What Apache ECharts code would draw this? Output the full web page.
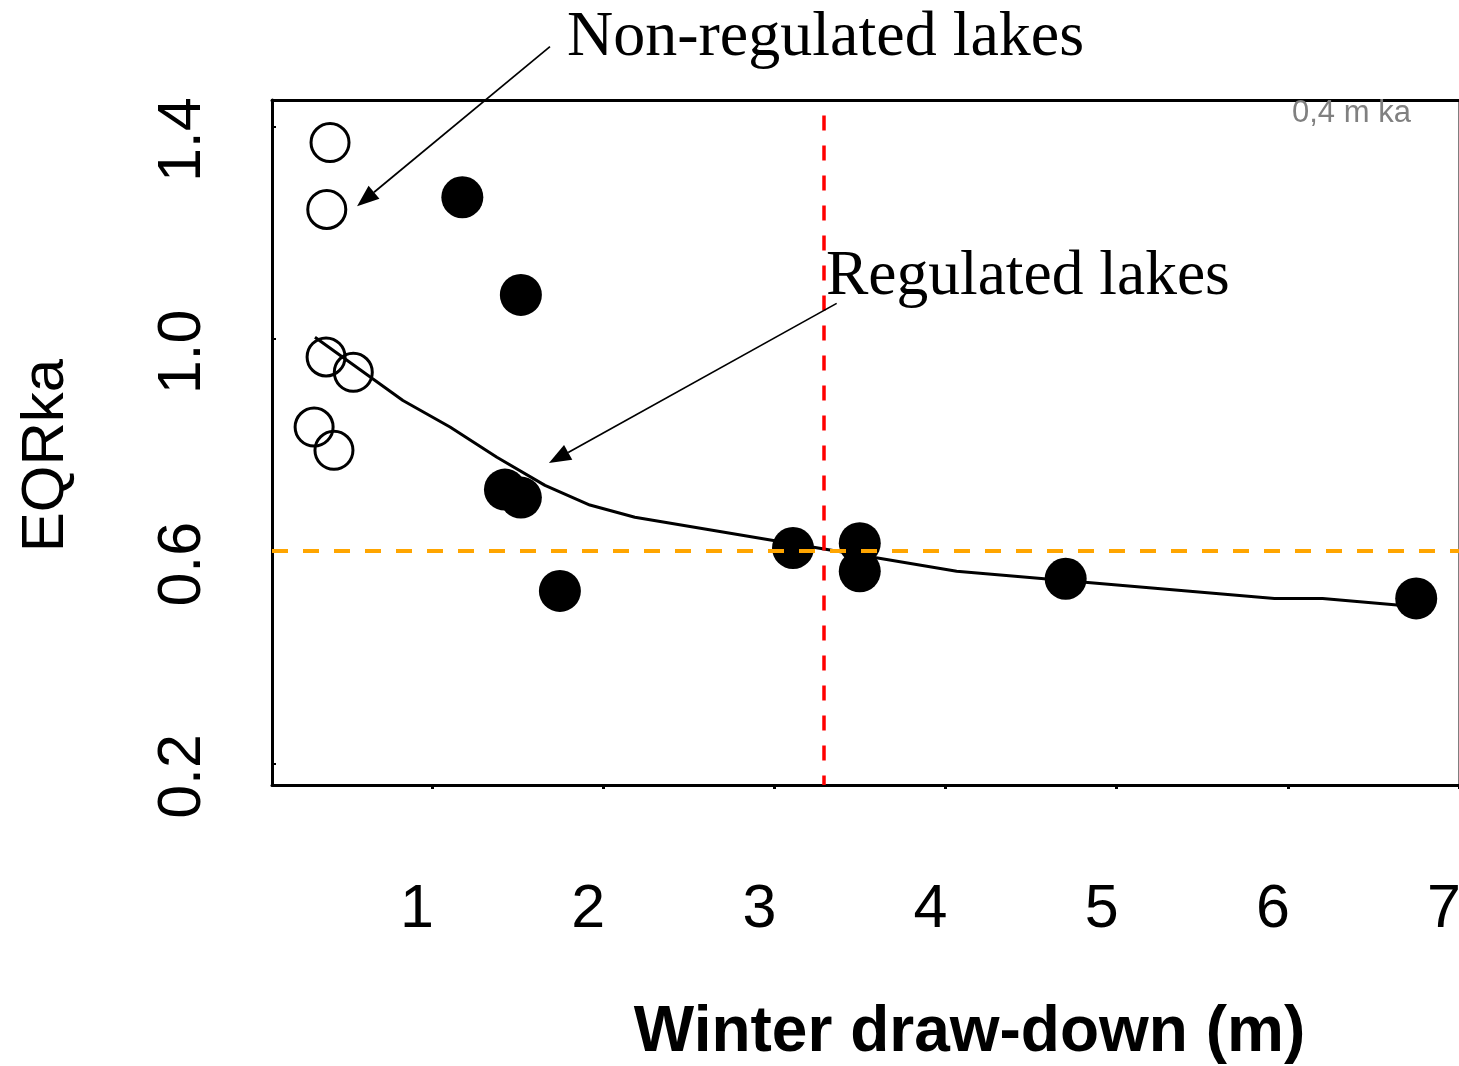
<!DOCTYPE html>
<html><head><meta charset="utf-8">
<script src="https://cdn.jsdelivr.net/npm/echarts@6/dist/echarts.min.js"></script>
<style>html,body{margin:0;padding:0;background:#fff}#c{width:1459px;height:1066px}</style>
</head><body><div id="c"></div>
<script>
// ---- data ----
const nonRegulatedX = [0.404, 0.385, 0.381, 0.540, 0.311, 0.427];
const nonRegulatedY = [1.370, 1.244, 0.966, 0.937, 0.834, 0.790];
const regulatedX = [1.177, 1.519, 1.426, 1.519, 1.747, 3.109, 3.499, 3.499, 4.702, 6.750];
const regulatedY = [1.267, 1.083, 0.716, 0.701, 0.525, 0.606, 0.615, 0.562, 0.548, 0.511];
const trendX = [0.316, 0.830, 1.105, 1.379, 1.660, 1.922, 2.185, 4.065, 5.922, 6.203, 6.722];
const trendY = [1.003, 0.884, 0.834, 0.777, 0.724, 0.687, 0.664, 0.562, 0.511, 0.511, 0.496];
const xTickValues = [1, 2, 3, 4, 5, 6, 7];
const yTickValues = [0.2, 0.6, 1.0, 1.4];
const eqrThreshold = 0.6;
const drawdownLimit = 3.289;
const drawdownLineTop = 1.421;
const xRange = [0.065, 7];
const yRange = [0.1593, 1.4503];
const xAxisTitle = 'Winter draw-down (m)';
const yAxisTitle = 'EQRka';
const nonRegLabel = 'Non-regulated lakes';
const regLabel = 'Regulated lakes';
const cornerNote = '0,4 m ka';
// arrow anchors in data units: [fromX, fromY, toX, toY]
const nonRegArrow = [1.689, 1.551, 0.562, 1.250];
const regArrow = [3.364, 1.067, 1.683, 0.766];

const zip = (a, b) => a.map((v, i) => [v, b[i]]);
const SANS = '"Liberation Sans", Arial, sans-serif';
const SERIF = '"Liberation Serif", "Times New Roman", serif';

const chart = echarts.init(document.getElementById('c'), null, {renderer: 'canvas'});
chart.setOption({
  animation: false,
  backgroundColor: '#fff',
  grid: {left: 272, right: 0, top: 100, bottom: 281, containLabel: false, outerBoundsMode: 'none'},
  xAxis: [{
    type: 'value', min: xRange[0], max: xRange[1], position: 'bottom',
    axisLine: {show: true, onZero: false, lineStyle: {color: '#000', width: 3}},
    splitLine: {show: false},
    axisTick: {show: true, customValues: xTickValues, length: 4, lineStyle: {color: '#000', width: 3}},
    axisLabel: {customValues: xTickValues, margin: 95, padding: [0, 30, 0, 0], fontSize: 61,
      fontFamily: SANS, color: '#000', formatter: v => String(v)},
    name: xAxisTitle, nameLocation: 'middle', nameGap: 216,
    nameTextStyle: {fontSize: 64, fontWeight: 'bold', fontFamily: SANS, color: '#000', padding: [0, 0, 0, 208]}
  }, {
    type: 'value', min: xRange[0], max: xRange[1], position: 'top',
    axisLine: {show: true, onZero: false, lineStyle: {color: '#000', width: 3}},
    axisTick: {show: false}, axisLabel: {show: false}, splitLine: {show: false}
  }],
  yAxis: [{
    type: 'value', min: yRange[0], max: yRange[1], position: 'left',
    axisLine: {show: true, onZero: false, lineStyle: {color: '#000', width: 3}},
    splitLine: {show: false},
    axisTick: {show: true, inside: true, customValues: yTickValues, length: 4, lineStyle: {color: '#000', width: 2}},
    axisLabel: {customValues: yTickValues, rotate: 90, margin: 58, padding: [0, 26, 0, 0], fontSize: 61,
      fontFamily: SANS, color: '#000', formatter: v => v.toFixed(1)},
    name: yAxisTitle, nameLocation: 'middle', nameGap: 196, nameRotate: 90,
    nameTextStyle: {fontSize: 60, fontFamily: SANS, color: '#000', padding: [0, 26, 0, 0]}
  }, {
    type: 'value', min: yRange[0], max: yRange[1], position: 'right',
    axisLine: {show: true, onZero: false, lineStyle: {color: '#555', width: 1.5}},
    axisTick: {show: false}, axisLabel: {show: false}, splitLine: {show: false}
  }],
  series: [{
    name: 'trend', type: 'line', xAxisIndex: 0, yAxisIndex: 0,
    data: zip(trendX, trendY), symbol: 'none', silent: true, z: 2,
    lineStyle: {color: '#000', width: 3},
    markLine: {
      silent: true, symbol: ['none', 'none'], label: {show: false}, animation: false, z: 6,
      data: [
        {yAxis: eqrThreshold, lineStyle: {color: '#FFA500', width: 4, type: [16, 15]}},
        [{coord: [drawdownLimit, drawdownLineTop], lineStyle: {color: '#FF0000', width: 3.5, type: [15, 15]}},
         {coord: [drawdownLimit, yRange[0]]}]
      ]
    }
  }, {
    name: nonRegLabel, type: 'scatter', data: zip(nonRegulatedX, nonRegulatedY),
    symbol: 'circle', symbolSize: 38, z: 3, silent: true,
    itemStyle: {color: 'rgba(0,0,0,0)', borderColor: '#000', borderWidth: 3, opacity: 1}
  }, {
    name: regLabel, type: 'scatter', data: zip(regulatedX, regulatedY),
    symbol: 'circle', symbolSize: 42, z: 3, silent: true,
    itemStyle: {color: '#000', opacity: 1}
  }]
});

function arrow(a) {
  const from = chart.convertToPixel({gridIndex: 0}, [a[0], a[1]]);
  const to = chart.convertToPixel({gridIndex: 0}, [a[2], a[3]]);
  const dx = to[0] - from[0], dy = to[1] - from[1], L = Math.hypot(dx, dy);
  const ux = dx / L, uy = dy / L, hl = 22, hw = 8.5;
  const bx = to[0] - ux * hl, by = to[1] - uy * hl;
  return [
    {type: 'line', silent: true, z: 10, shape: {x1: from[0], y1: from[1], x2: bx, y2: by},
     style: {stroke: '#000', lineWidth: 1.7}},
    {type: 'polygon', silent: true, z: 10,
     shape: {points: [to, [bx - uy * hw, by + ux * hw], [bx + uy * hw, by - ux * hw]]},
     style: {fill: '#000'}}
  ];
}

chart.setOption({
  graphic: [
    {type: 'text', x: 567, y: 38, silent: true, z: 10,
     style: {text: nonRegLabel, fontSize: 64, fontFamily: SERIF, fill: '#000', textAlign: 'left', verticalAlign: 'middle'}},
    {type: 'text', x: 826, y: 277, silent: true, z: 10,
     style: {text: regLabel, fontSize: 63.5, fontFamily: SERIF, fill: '#000', textAlign: 'left', verticalAlign: 'middle'}},
    {type: 'text', x: 1292, y: 113, silent: true, z: 1,
     style: {text: cornerNote, fontSize: 31, fontFamily: SANS, fill: '#808080', textAlign: 'left', verticalAlign: 'middle'}}
  ].concat(arrow(nonRegArrow), arrow(regArrow))
});
</script>
</body></html>
